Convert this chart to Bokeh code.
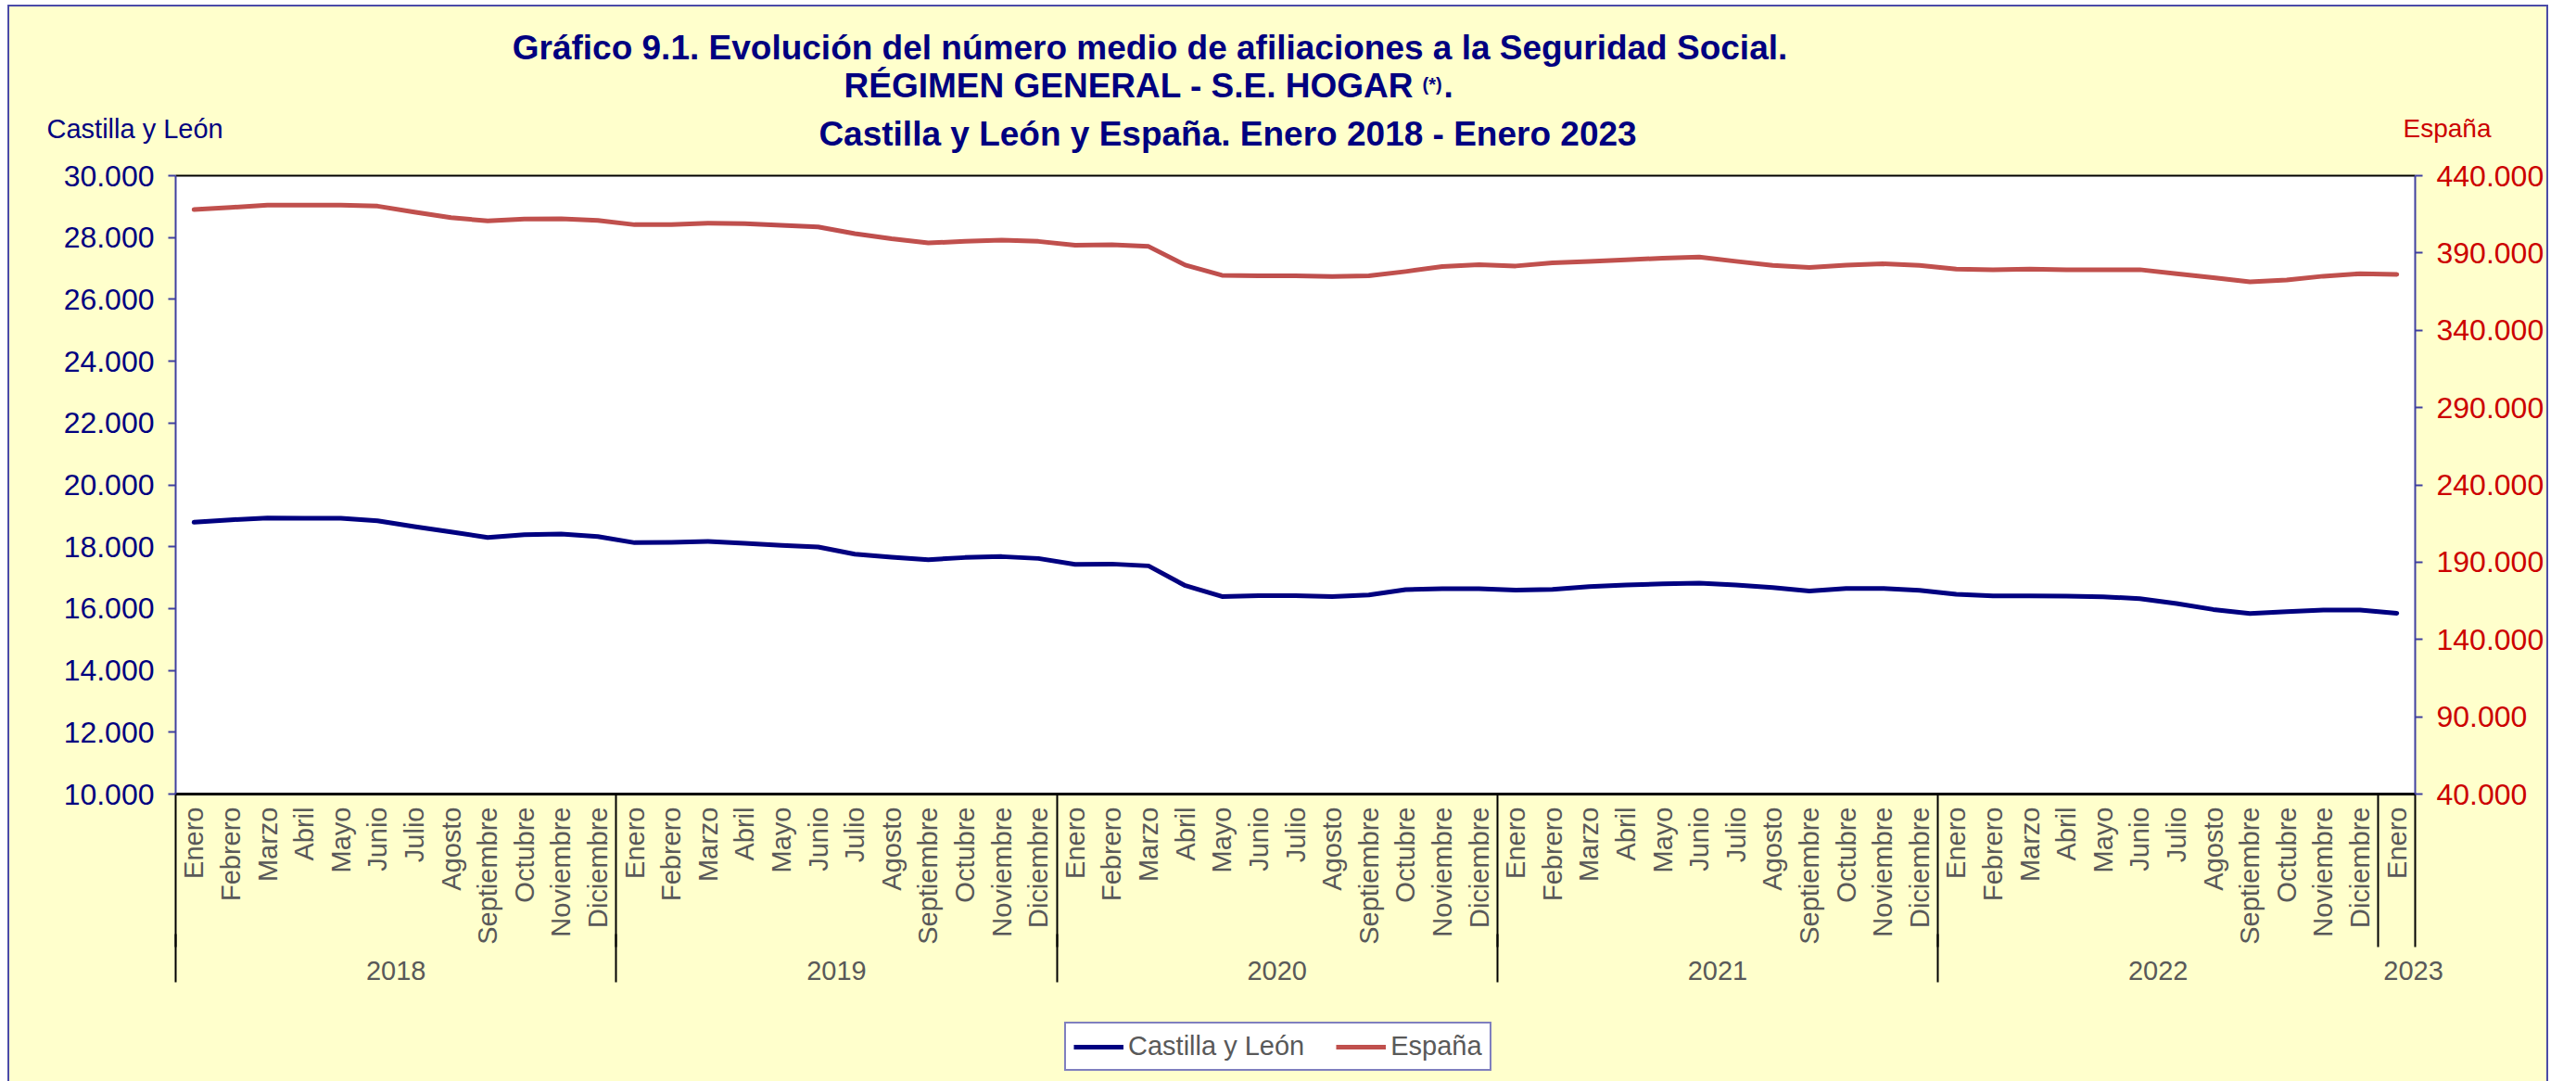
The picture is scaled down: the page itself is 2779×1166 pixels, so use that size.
import math
import numpy as np
from bokeh.plotting import figure
from bokeh.layouts import column
from bokeh.models import (Range1d, LinearAxis, FixedTicker, CustomJSTickFormatter,
                          Label, Legend, LegendItem, ColumnDataSource)
from bokeh.embed import file_html
from bokeh.resources import INLINE

# ---------------- data ----------------
years = ["2018", "2019", "2020", "2021", "2022", "2023"]
months = ["Enero", "Febrero", "Marzo", "Abril", "Mayo", "Junio", "Julio", "Agosto",
          "Septiembre", "Octubre", "Noviembre", "Diciembre"]
month_labels = months * 5 + ["Enero"]          # Enero 2018 ... Enero 2023
year_of_month = [y for y in years[:-1] for _ in months] + ["2023"]

castilla_leon = [
    18790, 18870, 18930, 18920, 18920, 18840, 18650, 18480, 18300, 18390, 18410, 18330,
    18130, 18140, 18170, 18110, 18040, 17990, 17760, 17660, 17580, 17650, 17680, 17620,
    17430, 17440, 17380, 16740, 16390, 16420, 16420, 16390, 16440, 16610, 16640, 16640,
    16600, 16620, 16710, 16760, 16800, 16820, 16760, 16680, 16570, 16650, 16650, 16590,
    16460, 16410, 16410, 16400, 16380, 16320, 16160, 15970, 15840, 15900, 15950, 15950,
    15850,
]
espana = [
    418100, 419500, 420900, 420900, 420900, 420300, 416500, 412900, 410700, 411900, 412100, 411100,
    408300, 408300, 409300, 408900, 407900, 406900, 402500, 399200, 396500, 397500, 398300, 397500,
    395000, 395300, 394200, 382200, 375600, 375200, 375200, 374800, 375200, 378000, 381200, 382400,
    381600, 383600, 384600, 385600, 386600, 387400, 384600, 382000, 380600, 382200, 383000, 382000,
    379600, 379200, 379600, 379200, 379200, 379200, 376600, 374000, 371400, 372600, 375000, 376600,
    376200,
]
left_ticks = [10000, 12000, 14000, 16000, 18000, 20000, 22000, 24000, 26000, 28000, 30000]
right_ticks = [40000, 90000, 140000, 190000, 240000, 290000, 340000, 390000, 440000]
series_names = ["Castilla y León", "España"]

# category slots: month i occupies [i, i+1]
n = len(month_labels)
x_center = [i + 0.5 for i in range(n)]
year_start = [year_of_month.index(y) for y in years]
year_end = [n - year_of_month[::-1].index(y) for y in years]
year_center = [(s + e) / 2 for s, e in zip(year_start, year_end)]
year_center[-1] = year_center[-1] + 0.45         # label "2023" sits a bit to the right
long_separators = year_start[:-1]                 # 2018 .. 2022 starts
all_separators = year_start + [n]                 # every group edge, incl. around 2023

# ---------------- style ----------------
FONT = "Liberation Sans"
NAVY = "#000080"
GRAY = "#595959"
RED = "#CC0000"
LINE_RED = "#C0504D"
AXBLUE = "#4040A0"
YELLOW = "#FFFFCC"
W = 2737
CX, CY = 10, 7          # page position of the canvases' left/top
T_H = 160               # title strip height
M_TOP, M_BOTTOM = 22, 239
FRAME_H = 667
M_H = M_TOP + FRAME_H + M_BOTTOM
L_H = 1166 - CY - T_H - M_H

# ---------------- title strip ----------------
t = figure(width=W, height=T_H, x_range=Range1d(0, W), y_range=Range1d(T_H, 0),
           x_axis_location=None, y_axis_location=None, min_border=0,
           output_backend="svg", toolbar_location=None,
           background_fill_color=YELLOW, border_fill_color=YELLOW, outline_line_color=None)
t.frame_align = False
t.xgrid.visible = False
t.ygrid.visible = False

def lab(X, Y, text, size, color=NAVY, bold=True, align="left"):
    px = int(size.replace("px", ""))
    t.add_layout(Label(x=X - CX, y=Y - CY - 0.3 * px, text=text, text_font=FONT,
                       text_font_size=size,
                       text_font_style="bold" if bold else "normal",
                       text_color=color, text_align=align, text_baseline="alphabetic"))

lab(1240, 62, "Gráfico 9.1. Evolución del número medio de afiliaciones a la Seguridad Social.",
    "37px", align="center")
lab(910, 103, "RÉGIMEN GENERAL - S.E. HOGAR", "37px")
lab(1534, 96, "(*)", "20px")
lab(1557, 103, ".", "37px")
lab(1324, 155, "Castilla y León y España. Enero 2018 - Enero 2023", "37px", align="center")
lab(50, 147, "Castilla y León", "29px", bold=False)
lab(2592, 146, "España", "28px", color=RED, bold=False)

# ---------------- main chart ----------------
src = ColumnDataSource(data=dict(x=x_center, cyl=castilla_leon, esp=espana))

p = figure(width=W, height=M_H,
           x_range=Range1d(0, n), y_range=Range1d(10000, 30000),
           output_backend="svg", toolbar_location=None,
           min_border_left=179, min_border_right=128, min_border_top=M_TOP,
           min_border_bottom=M_BOTTOM,
           background_fill_color="white", border_fill_color=YELLOW,
           outline_line_color=None)
p.frame_align = False
p.extra_y_ranges = {"es": Range1d(40000, 440000)}
p.xgrid.visible = False
p.ygrid.visible = False

fmt_code = "return Math.round(tick).toString().replace(/\\B(?=(\\d{3})+(?!\\d))/g, '.');"

# month axis (bottom)
xa = p.xaxis[0]
xa.ticker = FixedTicker(ticks=x_center)
xa.formatter = CustomJSTickFormatter(args=dict(names=month_labels),
                                     code="return names[Math.floor(tick)];")
xa.major_label_orientation = math.pi / 2
xa.major_label_text_font = FONT
xa.major_label_text_font_size = "29px"
xa.major_label_text_color = GRAY
xa.major_label_standoff = 14
xa.major_tick_line_color = None
xa.minor_tick_line_color = None
xa.major_tick_out = 0
xa.major_tick_in = 0
xa.minor_tick_out = 0
xa.minor_tick_in = 0
xa.axis_line_color = "black"
xa.axis_line_width = 3

# year axis (below month axis); its minor ticks draw the group separators up to the frame
yr = LinearAxis(ticker=FixedTicker(ticks=year_center, minor_ticks=all_separators),
                formatter=CustomJSTickFormatter(args=dict(pos=year_center, names=years),
                                                code="const i = pos.indexOf(tick); return i >= 0 ? names[i] : '';"),
                major_label_text_font=FONT, major_label_text_font_size="29px",
                major_label_text_color=GRAY, axis_line_color=None,
                major_tick_line_color=None, major_tick_out=0, major_tick_in=0,
                minor_tick_line_color="black", minor_tick_line_width=2,
                minor_tick_in=166, minor_tick_out=0,
                major_label_standoff=15)
p.add_layout(yr, "below")

# extension of the year separators through the year-label row
ext = LinearAxis(ticker=FixedTicker(ticks=[], minor_ticks=long_separators),
                 axis_line_color=None, major_tick_line_color=None,
                 major_tick_out=0, major_tick_in=0,
                 minor_tick_line_color="black", minor_tick_line_width=2,
                 minor_tick_in=52, minor_tick_out=0, major_label_standoff=0,
                 major_label_text_font_size="0px")
p.add_layout(ext, "below")

# left axis
ya = p.yaxis[0]
ya.ticker = FixedTicker(ticks=left_ticks)
ya.formatter = CustomJSTickFormatter(code=fmt_code)
ya.major_label_text_font = FONT
ya.major_label_text_font_size = "32px"
ya.major_label_text_color = NAVY
ya.axis_line_color = AXBLUE
ya.axis_line_width = 2
ya.major_tick_line_color = AXBLUE
ya.major_tick_line_width = 2
ya.major_tick_out = 8
ya.major_tick_in = 0
ya.minor_tick_line_color = None
ya.major_label_standoff = 15

# right axis
ra = LinearAxis(y_range_name="es", ticker=FixedTicker(ticks=right_ticks),
                formatter=CustomJSTickFormatter(code=fmt_code),
                major_label_text_font=FONT, major_label_text_font_size="32px",
                major_label_text_color=RED, axis_line_color=AXBLUE, axis_line_width=2,
                major_tick_line_color=AXBLUE, major_tick_line_width=2,
                major_tick_out=8, major_tick_in=0, minor_tick_line_color=None,
                major_label_standoff=15)
p.add_layout(ra, "right")

# top frame line
top = LinearAxis(ticker=FixedTicker(ticks=[]),
                 axis_line_color="black", axis_line_width=2,
                 major_tick_line_color=None, minor_tick_line_color=None,
                 major_tick_out=0, minor_tick_out=0, major_label_standoff=0,
                 major_label_text_font_size="0px")
p.add_layout(top, "above")

p.line(x="x", y="cyl", source=src, line_color=NAVY, line_width=5,
       line_join="round", line_cap="round")
p.line(x="x", y="esp", source=src, y_range_name="es", line_color=LINE_RED,
       line_width=5, line_join="round", line_cap="round")

# ---------------- legend strip ----------------
lg = figure(width=W, height=L_H, x_range=Range1d(0, 1), y_range=Range1d(0, 1),
            x_axis_location=None, y_axis_location=None, min_border=0,
            output_backend="svg", toolbar_location=None,
            background_fill_color=YELLOW, border_fill_color=YELLOW, outline_line_color=None)
lg.frame_align = False
lg.xgrid.visible = False
lg.ygrid.visible = False
nan = np.array([np.nan])
k1 = lg.line(x=nan, y=nan, line_color=NAVY, line_width=5)
k2 = lg.line(x=nan, y=nan, line_color=LINE_RED, line_width=5)
legend = Legend(items=[LegendItem(label=series_names[0], renderers=[k1]),
                       LegendItem(label=series_names[1], renderers=[k2])],
                location=(1148 - CX, L_H - (1155 - (1166 - L_H))), orientation="horizontal",
                label_text_font=FONT, label_text_font_size="29px", label_text_color=GRAY,
                glyph_width=54, glyph_height=20, label_standoff=5, spacing=34,
                padding=8, margin=0, border_line_color=NAVY, border_line_width=2,
                background_fill_color="white", background_fill_alpha=1.0)
lg.add_layout(legend)

layout = column(t, p, lg, spacing=0,
                styles={"margin-left": "8px", "margin-top": "5px",
                        "border-left": "2px solid #4B4BA8", "border-top": "2px solid #4B4BA8",
                        "border-right": "2px solid #4B4BA8", "background-color": YELLOW})

open("out.html", "w").write(file_html(layout, INLINE))
